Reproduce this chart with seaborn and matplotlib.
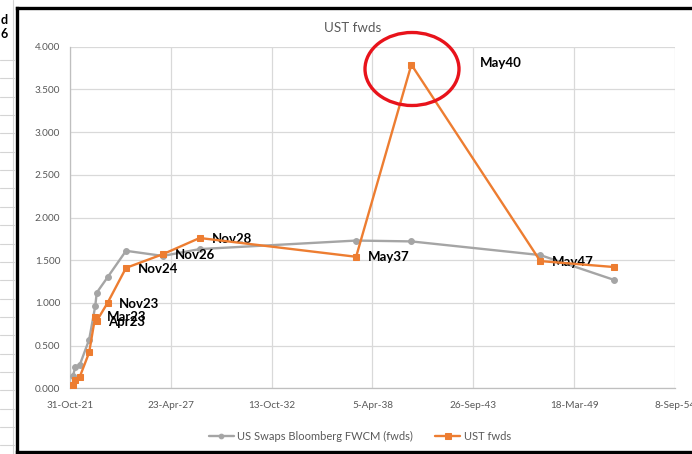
import numpy as np
import pandas as pd
import matplotlib
matplotlib.use("Agg")
import matplotlib.pyplot as plt
import matplotlib.dates as mdates
from matplotlib.patches import Ellipse
from matplotlib.lines import Line2D
import seaborn as sns

# ---------------- data ----------------
dates = ["2021-12-25", "2022-02-15", "2022-05-10", "2022-11-15", "2023-03-15",
         "2023-04-15", "2023-11-15", "2024-11-15", "2026-11-15", "2028-11-15",
         "2037-05-15", "2040-05-15", "2047-05-15", "2051-05-15"]
swaps_fwds = [0.14, 0.25, 0.27, 0.57, 0.96, 1.12, 1.30, 1.61, 1.55, 1.63,
              1.73, 1.72, 1.56, 1.27]
ust_fwds = [0.04, 0.10, 0.13, 0.42, 0.84, 0.79, 1.00, 1.41, 1.57, 1.76,
            1.54, 3.79, 1.49, 1.42]
point_labels = ["", "", "", "", "Mar23", "Apr23", "Nov23", "Nov24", "Nov26",
                "Nov28", "May37", "May40", "May47", ""]
x_tick_labels = ["31-Oct-21", "23-Apr-27", "13-Oct-32", "5-Apr-38",
                 "26-Sep-43", "18-Mar-49", "8-Sep-54"]
y_ticks = [0.0, 0.5, 1.0, 1.5, 2.0, 2.5, 3.0, 3.5, 4.0]
series_names = ["US Swaps Bloomberg FWCM (fwds)", "UST fwds"]
title = "UST fwds"

# ---------------- style ----------------
sns.set_theme(style="white")
plt.rcParams["font.family"] = ["Lato", "DejaVu Sans"]

GRAY = "#A5A5A5"
ORANGE = "#ED7D31"
TXT = "#595959"
GRID = "#D9D9D9"

W, H = 692, 454
fig = plt.figure(figsize=(W / 100, H / 100), dpi=100)
fig.patch.set_facecolor("white")

def fx(px):
    return px / W

def fy(py):
    return 1 - py / H

# spreadsheet remnants on the left
for k in range(22):
    yy = 60 + 18.35 * k
    fig.add_artist(Line2D([0, fx(14)], [fy(yy), fy(yy)], color="#D4D4D4", lw=0.8,
                          transform=fig.transFigure))
fig.add_artist(Line2D([fx(13), fx(13)], [fy(0), fy(454)], color="#D4D4D4", lw=0.8,
                      transform=fig.transFigure))
fig.text(fx(7.5), fy(20), "d", ha="right", va="center", fontsize=9,
         fontweight="bold", color="black")
fig.text(fx(7.5), fy(34), "6", ha="right", va="center", fontsize=9,
         fontweight="bold", color="black")

# chart-area white box + thick black border
fig.add_artist(plt.Rectangle((fx(17), fy(452)), 1 - fx(17), fy(8) - fy(452),
                             transform=fig.transFigure, facecolor="white",
                             edgecolor="none", zorder=0))
for xs, ys in [([fx(17), fx(17)], [fy(8), fy(452)]),
               ([fx(17), 1.0], [fy(8), fy(8)]),
               ([fx(17), 1.0], [fy(452), fy(452)])]:
    fig.add_artist(Line2D(xs, ys, color="black", lw=2.4, transform=fig.transFigure,
                          solid_capstyle="projecting", zorder=5))

# axes
left, right, bottom, top = 70, 675, 388.3, 46.7
ax = fig.add_axes([fx(left), fy(bottom), fx(right) - fx(left), fy(top) - fy(bottom)])
ax.set_facecolor("none")

d = pd.to_datetime(dates)
sns.lineplot(x=d, y=swaps_fwds, color=GRAY, marker="o", markersize=4.2,
             markeredgecolor=GRAY, linewidth=1.7, label=series_names[0], ax=ax,
             zorder=3)
sns.lineplot(x=d, y=ust_fwds, color=ORANGE, marker="s", markersize=5,
             markeredgecolor=ORANGE, linewidth=1.7, label=series_names[1], ax=ax,
             zorder=4)

xt = pd.to_datetime(x_tick_labels, format="%d-%b-%y")
ax.set_xlim(xt[0], xt[-1])
ax.set_ylim(0, 4.0)
ax.set_xticks(xt)
ax.set_xticklabels(x_tick_labels)
ax.set_yticks(y_ticks)
ax.set_yticklabels([f"{v:.3f}" for v in y_ticks])
ax.tick_params(axis="both", length=0, labelsize=7.2, labelcolor=TXT)
ax.tick_params(axis="x", pad=9)
ax.tick_params(axis="y", pad=7)
ax.set_xlabel("")
ax.set_ylabel("")
ax.grid(True, color=GRID, lw=0.9)
ax.set_axisbelow(True)
for s in ["top", "right"]:
    ax.spines[s].set_visible(False)
for s in ["left", "bottom"]:
    ax.spines[s].set_color("#BFBFBF")
    ax.spines[s].set_linewidth(0.9)
for lbl in ax.get_xticklabels():
    lbl.set_clip_on(False)

# data labels
for dt, v, t in zip(d, ust_fwds, point_labels):
    if not t:
        continue
    if t == "May40":
        ax.annotate(t, (dt, v), xytext=(49.5, 1.5), textcoords="offset points",
                    ha="left", va="center", fontsize=9.5, fontweight="bold",
                    color="black")
    elif t == "Apr23":
        ax.annotate(t, (dt, v), xytext=(8, -1), textcoords="offset points",
                    ha="left", va="center", fontsize=9.5, fontweight="bold",
                    color="black")
    else:
        ax.annotate(t, (dt, v), xytext=(8.5, -0.5), textcoords="offset points",
                    ha="left", va="center", fontsize=9.5, fontweight="bold",
                    color="black")

# red ellipse highlight
fig.add_artist(Ellipse((fx(412), fy(69)), fx(94), 73 / H, transform=fig.transFigure,
                       fill=False, edgecolor="#E8131B", lw=2.4, zorder=6))

# title
fig.text(fx(353), fy(28), title, ha="center", va="center", fontsize=9.6,
         color=TXT)

# legend
ax.legend(loc="center", bbox_to_anchor=(fx(360), fy(436)),
          bbox_transform=fig.transFigure, ncol=2, frameon=False, fontsize=8,
          labelcolor=TXT, handlelength=2.2, handletextpad=0.35,
          columnspacing=2.0, markerscale=0.8)

fig.savefig("out.png", dpi=100)
